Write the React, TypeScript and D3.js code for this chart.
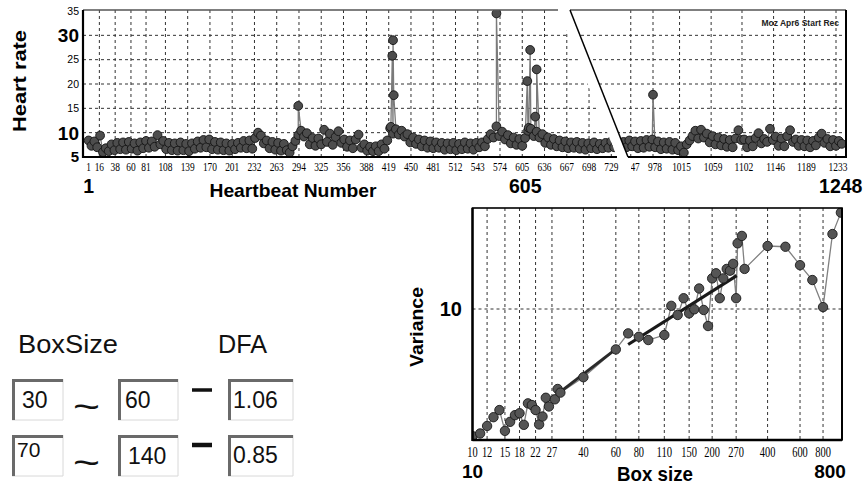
import React from 'react';
import * as d3 from 'd3';

// ---------- Heart rate series (top) ----------
const HR_LEFT_START = 1;
const HR_RIGHT_START = 937;
const HR_STEP = 4;
const HR_LEFT_VALUES = [
  8.4, 7.3, 8.2, 7.0, 9.4, 6.0, 6.8, 6.2, 7.6, 6.4,
  7.9, 6.6, 8.0, 6.5, 8.1, 6.7, 7.8, 6.3, 8.0, 6.8,
  8.3, 6.9, 8.2, 7.1, 9.5, 7.6, 8.3, 6.6, 7.9, 6.4,
  7.8, 6.3, 8.0, 6.4, 7.7, 6.2, 7.8, 6.7, 8.2, 6.9,
  8.5, 7.0, 8.6, 6.6, 8.1, 6.5, 8.0, 6.4, 7.8, 6.3,
  7.7, 6.6, 7.9, 6.9, 8.3, 6.8, 8.4, 6.7, 8.9, 10.0,
  9.4, 7.8, 8.4, 6.8, 8.1, 6.5, 7.9, 6.3, 7.7, 6.4,
  5.9, 7.2, 8.3, 9.5, 10.4, 9.2, 9.9, 7.6, 8.9, 7.3,
  8.8, 7.6, 10.6, 8.1, 9.8, 7.5, 9.1, 10.3, 7.9, 8.6,
  7.1, 8.4, 6.8, 8.6, 9.6, 6.9, 7.6, 6.3, 7.1, 6.2,
  7.2, 6.2, 7.6, 6.7, 8.4, 10.9, 9.8, 10.7, 9.6, 10.4,
  9.2, 9.7, 8.0, 9.0, 7.7, 8.6, 7.2, 8.4, 6.9, 8.2,
  6.8, 8.0, 6.9, 7.9, 6.5, 7.8, 6.6, 7.9, 6.4, 7.7,
  6.6, 8.0, 6.7, 7.8, 6.5, 7.9, 7.0, 8.0, 7.2, 8.7,
  9.7, 9.0, 11.3, 9.3, 10.2, 8.6, 9.5, 7.8, 9.0, 7.5,
  8.7, 7.3, 8.9, 10.4, 10.8, 9.3, 10.2, 9.0, 9.7, 7.9,
  9.0, 7.5, 8.7, 7.2, 8.4, 7.0, 8.2, 6.8, 8.0, 6.9,
  8.1, 6.7, 7.9, 6.5, 7.8, 6.8, 8.0, 6.6, 7.7, 6.8,
  7.9, 6.9, 8.2, 7.0, 8.1, 7.1, 8.0,
];
const HR_RIGHT_VALUES = [
  8.1, 7.0, 8.4, 7.2, 8.2, 6.8, 8.3, 6.9, 8.5, 7.1,
  8.6, 7.0, 8.2, 6.6, 8.0, 6.7, 8.1, 6.5, 7.9, 6.4,
  7.2, 5.9, 7.6, 8.4, 9.3, 10.4, 8.8, 10.6, 9.0, 9.8,
  8.0, 9.3, 7.6, 9.0, 7.4, 8.7, 7.1, 8.5, 7.0, 8.8,
  10.5, 8.5, 8.6, 7.0, 8.4, 7.2, 8.9, 9.9, 7.8, 8.7,
  8.1, 10.8, 8.5, 9.2, 7.3, 8.8, 7.2, 9.3, 10.5, 8.1,
  8.6, 7.3, 8.5, 7.2, 8.4, 7.0, 8.3, 7.4, 9.0, 9.8,
  7.9, 8.7, 7.2, 8.5, 7.3, 8.3, 7.7,
];
const HR_SPIKE_BEATS = [293, 422, 424, 425, 426, 569, 612, 614, 616, 623, 625, 978];
const HR_SPIKE_VALUES = [15.5, 11.2, 25.8, 29.0, 17.7, 34.5, 20.6, 11.0, 27.0, 13.3, 23.0, 17.8];

const HR_Y_TICKS = [5, 10, 15, 20, 25, 30, 35];
const HR_Y_BIG = [10, 30];
const HR_Y_GRID = [10, 15, 20, 25, 30];
const HR_LEFT_TICKS = [1, 16, 38, 60, 81, 108, 139, 170, 201, 232, 263, 294, 325, 356, 388, 419, 450, 481, 512, 543, 574, 605, 636, 667, 698, 729];
const HR_RIGHT_TICKS = [947, 978, 1015, 1059, 1102, 1146, 1189, 1233];

// ---------- DFA variance (bottom right) ----------
const DFA_BOX = [10, 11, 12, 13, 14, 15, 16, 17, 18, 19, 20, 21, 22, 23, 24, 25, 26, 28, 29, 30, 40, 60, 70, 80, 90, 110, 120, 130, 140, 150, 160, 170, 180, 190, 200, 210, 220, 230, 240, 250, 260, 270, 275, 290, 300, 400, 500, 600, 700, 800, 900, 1000];
const DFA_VAR = [1.42, 1.48, 1.66, 1.90, 2.12, 1.54, 1.77, 1.96, 2.02, 1.69, 2.35, 2.29, 2.12, 1.70, 1.92, 2.56, 2.24, 2.50, 2.93, 2.77, 3.51, 5.38, 6.88, 6.53, 6.21, 6.71, 10.5, 9.12, 11.8, 9.36, 9.95, 13.7, 9.85, 7.7, 16.0, 17.3, 11.8, 16.0, 18.5, 18.0, 20.0, 11.8, 27.4, 30.7, 18.5, 26.3, 26.0, 19.6, 15.6, 10.3, 31.6, 43.9];
const DFA_X_TICKS = [10, 12, 15, 18, 22, 27, 40, 60, 80, 110, 150, 200, 270, 400, 600, 800];
const DFA_FIT1_BOX = [29, 60];
const DFA_FIT1_VAR = [2.72, 5.4];
const DFA_FIT2_BOX = [70, 272];
const DFA_FIT2_VAR = [5.8, 16.7];

// ---------- Box size inputs ----------
const BOX_FROM = ['30', '70'];
const BOX_TO = ['60', '140'];
const DFA_RESULT = ['1.06', '0.85'];

const SANS = 'Liberation Sans, Arial, sans-serif';
const SERIF = 'Liberation Serif, serif';

type P = { b: number; v: number };

function Field({ x, y, w, h, text, tx, ty, fs }: { x: number; y: number; w: number; h: number; text: string; tx: number; ty: number; fs: number }) {
  return (
    <g>
      <rect x={x} y={y} width={w} height={h} fill="#fff" />
      <polyline points={`${x + w},${y + h} ${x + w},${y} `} fill="none" stroke="#d8d8d8" strokeWidth={1} />
      <polyline points={`${x},${y + h} ${x + w},${y + h}`} fill="none" stroke="#d8d8d8" strokeWidth={1} />
      <polyline points={`${x + 1.5},${y + h} ${x + 1.5},${y + 1.5} ${x + w},${y + 1.5}`} fill="none" stroke="#6a6a6a" strokeWidth={3} />
      <text x={tx} y={ty} fontFamily={SANS} fontSize={fs} fill="#111">{text}</text>
    </g>
  );
}

export default function App() {
  const W = 865, H = 486;

  // ---- top chart geometry ----
  const top = 10, bottom = 157, left = 83, right = 846;
  const yHR = d3.scaleLinear().domain([5, 35]).range([157, 11]);
  const xL = d3.scaleLinear().domain([1, 729]).range([88.6, 611.3]);
  const xR = d3.scaleLinear().domain([978, 1233]).range([653, 836]);
  const leftClip = `M${left},${top} L558,${top} L617,${bottom} L${left},${bottom} Z`;
  const rightClip = `M570,${top} L${right},${top} L${right},${bottom} L628,${bottom} Z`;

  const spikes: P[] = HR_SPIKE_BEATS.map((b, i) => ({ b, v: HR_SPIKE_VALUES[i] }));
  const leftPts: P[] = HR_LEFT_VALUES.map((v, i) => ({ b: HR_LEFT_START + i * HR_STEP, v }))
    .concat(spikes.filter(s => s.b < 800))
    .sort((a, b) => a.b - b.b);
  const rightPts: P[] = HR_RIGHT_VALUES.map((v, i) => ({ b: HR_RIGHT_START + i * HR_STEP, v }))
    .concat(spikes.filter(s => s.b >= 800))
    .sort((a, b) => a.b - b.b);

  const lineL = d3.line<P>().x(d => xL(d.b)).y(d => yHR(d.v));
  const lineR = d3.line<P>().x(d => xR(d.b)).y(d => yHR(d.v));

  // ---- DFA chart geometry ----
  const dl = 472.5, dr = 842, dt = 208, db = 440;
  const xD = d3.scaleLog().domain([10, 1014]).range([dl, dr]);
  const yD = d3.scaleLog().domain([1.339, 47.13]).range([db, dt]);
  const dfaPts = DFA_BOX.map((n, i) => ({ n, v: DFA_VAR[i] }));
  const lineD = d3.line<{ n: number; v: number }>().x(d => xD(d.n)).y(d => yD(d.v));
  const fit1 = DFA_FIT1_BOX.map((n, i) => ({ n, v: DFA_FIT1_VAR[i] }));
  const fit2 = DFA_FIT2_BOX.map((n, i) => ({ n, v: DFA_FIT2_VAR[i] }));

  const dash = '3,3';

  return (
    <svg width={W} height={H} viewBox={`0 0 ${W} ${H}`} style={{ position: 'absolute', left: 0, top: 0, background: '#fff' }}>
      <defs>
        <clipPath id="clipL"><path d={leftClip} /></clipPath>
        <clipPath id="clipR"><path d={rightClip} /></clipPath>
        <clipPath id="clipLblL"><rect x={0} y={158} width={619} height={30} /></clipPath>
        <clipPath id="clipLblR"><rect x={631} y={158} width={240} height={30} /></clipPath>
        <clipPath id="clipD"><rect x={dl} y={dt} width={dr - dl} height={db - dt} /></clipPath>
      </defs>
      <rect x={0} y={0} width={W} height={H} fill="#fff" />

      {/* ===== Top heart-rate chart ===== */}
      <g clipPath="url(#clipL)">
        {HR_Y_GRID.map(t => (
          <line key={'hl' + t} x1={left} x2={right} y1={yHR(t)} y2={yHR(t)} stroke="#333" strokeDasharray={dash} />
        ))}
        {HR_LEFT_TICKS.slice(1).map(t => (
          <line key={'vl' + t} x1={xL(t)} x2={xL(t)} y1={top} y2={bottom} stroke="#333" strokeDasharray={dash} />
        ))}
        <path d={lineL(leftPts) || ''} fill="none" stroke="#7a7a7a" strokeWidth={1.3} />
        {leftPts.map((d, i) => (
          <circle key={'pl' + i} cx={xL(d.b)} cy={yHR(d.v)} r={4.4} fill="#4d4d4d" stroke="#151515" strokeWidth={0.9} />
        ))}
      </g>
      <g clipPath="url(#clipR)">
        {HR_Y_GRID.map(t => (
          <line key={'hr' + t} x1={left} x2={right} y1={yHR(t)} y2={yHR(t)} stroke="#333" strokeDasharray={dash} />
        ))}
        {HR_RIGHT_TICKS.map(t => (
          <line key={'vr' + t} x1={xR(t)} x2={xR(t)} y1={top} y2={bottom} stroke="#333" strokeDasharray={dash} />
        ))}
        <path d={lineR(rightPts) || ''} fill="none" stroke="#7a7a7a" strokeWidth={1.3} />
        {rightPts.map((d, i) => (
          <circle key={'pr' + i} cx={xR(d.b)} cy={yHR(d.v)} r={4.4} fill="#4d4d4d" stroke="#151515" strokeWidth={0.9} />
        ))}
      </g>
      {/* frames */}
      <line x1={left} x2={558} y1={top} y2={top} stroke="#555" strokeWidth={1.5} />
      <line x1={570} x2={right} y1={top} y2={top} stroke="#555" strokeWidth={1.5} />
      <line x1={left} x2={left} y1={top} y2={bottom + 1} stroke="#000" strokeWidth={2.2} />
      <line x1={left} x2={617} y1={bottom} y2={bottom} stroke="#000" strokeWidth={2.2} />
      <line x1={628} x2={right} y1={bottom} y2={bottom} stroke="#000" strokeWidth={2.2} />
      <line x1={right} x2={right} y1={top} y2={bottom + 1} stroke="#000" strokeWidth={2} />
      <line x1={570} x2={628} y1={top} y2={bottom} stroke="#000" strokeWidth={1.5} />

      {/* y tick labels */}
      {HR_Y_TICKS.map(t => {
        const big = HR_Y_BIG.includes(t);
        const fs = big ? 19 : t === 5 ? 15 : 10.5;
        return (
          <text key={'yt' + t} x={79} y={yHR(t) + fs * 0.36} textAnchor="end" fontFamily={SANS}
            fontWeight={big || t === 5 ? 'bold' : 'normal'} fontSize={fs} fill="#000">{t}</text>
        );
      })}
      {/* x tick labels */}
      <g clipPath="url(#clipLblL)">
        {HR_LEFT_TICKS.map(t => {
          const s = String(t);
          return (
            <text key={'xl' + t} x={xL(t)} y={171} textAnchor="middle" fontFamily={SERIF} fontSize={12.5}
              textLength={s.length * 4.7} lengthAdjust="spacingAndGlyphs" fill="#000">{s}</text>
          );
        })}
      </g>
      <g clipPath="url(#clipLblR)">
        {HR_RIGHT_TICKS.map(t => {
          const s = String(t);
          return (
            <text key={'xr' + t} x={xR(t) + 2} y={171} textAnchor="middle" fontFamily={SERIF} fontSize={12.5}
              textLength={s.length * 4.7} lengthAdjust="spacingAndGlyphs" fill="#000">{s}</text>
          );
        })}
      </g>
      <text x={xL(1)} y={192.5} textAnchor="middle" fontFamily={SANS} fontWeight="bold" fontSize={19.5} fill="#000">1</text>
      <text x={xL(605) + 3} y={193} textAnchor="middle" fontFamily={SANS} fontWeight="bold" fontSize={19.5} fill="#000">605</text>
      <text x={xR(1248) - 6} y={193} textAnchor="middle" fontFamily={SANS} fontWeight="bold" fontSize={19.5} fill="#000">1248</text>
      <text x={293} y={197} textAnchor="middle" fontFamily={SANS} fontWeight="bold" fontSize={19}
        textLength={167} lengthAdjust="spacingAndGlyphs" fill="#000">Heartbeat Number</text>
      <text transform="translate(26,81) rotate(-90)" textAnchor="middle" fontFamily={SANS} fontWeight="bold" fontSize={19}
        textLength={102} lengthAdjust="spacingAndGlyphs" fill="#000">Heart rate</text>
      <text x={839} y={26} textAnchor="end" fontFamily={SANS} fontWeight="bold" fontSize={8.5} fill="#222">Moz Apr6 Start Rec</text>

      {/* ===== DFA chart ===== */}
      <g clipPath="url(#clipD)">
        <line x1={dl} x2={dr} y1={yD(10)} y2={yD(10)} stroke="#333" strokeDasharray={dash} />
        {DFA_X_TICKS.slice(1).map(t => (
          <line key={'dg' + t} x1={xD(t)} x2={xD(t)} y1={dt} y2={db} stroke="#333" strokeDasharray={dash} />
        ))}
        <path d={lineD(dfaPts) || ''} fill="none" stroke="#808080" strokeWidth={1.3} />
        <path d={lineD(fit1) || ''} fill="none" stroke="#2a2a2a" strokeWidth={3} />
        <path d={lineD(fit2) || ''} fill="none" stroke="#1a1a1a" strokeWidth={3.2} />
        {dfaPts.map((d, i) => (
          <circle key={'dp' + i} cx={xD(d.n)} cy={yD(d.v)} r={4.7} fill="#555" stroke="#1a1a1a" strokeWidth={0.9} />
        ))}
      </g>
      <rect x={dl} y={dt} width={dr - dl} height={db - dt} fill="none" stroke="#000" strokeWidth={1.6} />
      <line x1={dl} x2={dl} y1={dt} y2={db + 1} stroke="#000" strokeWidth={2.4} />
      <line x1={dl} x2={dr} y1={db} y2={db} stroke="#000" strokeWidth={2.4} />
      <line x1={dr} x2={dr} y1={dt} y2={db} stroke="#000" strokeWidth={2} />
      {DFA_X_TICKS.map(t => {
        const s = String(t);
        return (
          <text key={'dx' + t} x={xD(t)} y={457} textAnchor="middle" fontFamily={SERIF} fontSize={14}
            textLength={s.length * 5.2} lengthAdjust="spacingAndGlyphs" fill="#000">{s}</text>
        );
      })}
      <text x={xD(10)} y={478} textAnchor="middle" fontFamily={SANS} fontWeight="bold" fontSize={19} fill="#000">10</text>
      <text x={xD(800) + 7} y={478} textAnchor="middle" fontFamily={SANS} fontWeight="bold" fontSize={19} fill="#000">800</text>
      <text x={655} y={481} textAnchor="middle" fontFamily={SANS} fontWeight="bold" fontSize={21}
        textLength={76} lengthAdjust="spacingAndGlyphs" fill="#000">Box size</text>
      <text x={462} y={yD(10) + 7} textAnchor="end" fontFamily={SANS} fontWeight="bold" fontSize={20} fill="#000">10</text>
      <text transform={`translate(423,327) rotate(-90)`} textAnchor="middle" fontFamily={SANS} fontWeight="bold" fontSize={19}
        textLength={80} lengthAdjust="spacingAndGlyphs" fill="#000">Variance</text>

      {/* ===== BoxSize / DFA panel ===== */}
      <text x={18} y={353} fontFamily={SANS} fontSize={25} textLength={100} lengthAdjust="spacingAndGlyphs" fill="#111">BoxSize</text>
      <text x={218} y={353} fontFamily={SANS} fontSize={25} textLength={49} lengthAdjust="spacingAndGlyphs" fill="#111">DFA</text>
      {BOX_FROM.map((s, i) => {
        const y0 = i === 0 ? 379 : 435;
        return (
          <g key={'row' + i}>
            <Field x={12} y={y0} w={51} h={41} text={s} tx={i === 0 ? 22 : 17} ty={i === 0 ? 408 : 457} fs={i === 0 ? 23 : 21} />
            <text x={86.5} y={y0 + 40} textAnchor="middle" fontFamily={SANS} fontSize={36} textLength={27} lengthAdjust="spacingAndGlyphs" fill="#111">~</text>
            <Field x={118} y={y0} w={60} h={41} text={BOX_TO[i]} tx={i === 0 ? 125 : 128} ty={i === 0 ? 408 : 464} fs={23} />
            <line x1={192} x2={212} y1={y0 + (i === 0 ? 11 : 10)} y2={y0 + (i === 0 ? 11 : 10)} stroke="#111" strokeWidth={i === 0 ? 3.5 : 4.5} />
            <Field x={228} y={y0} w={65} h={41} text={DFA_RESULT[i]} tx={233} ty={i === 0 ? 408 : 463} fs={23} />
          </g>
        );
      })}
    </svg>
  );
}
